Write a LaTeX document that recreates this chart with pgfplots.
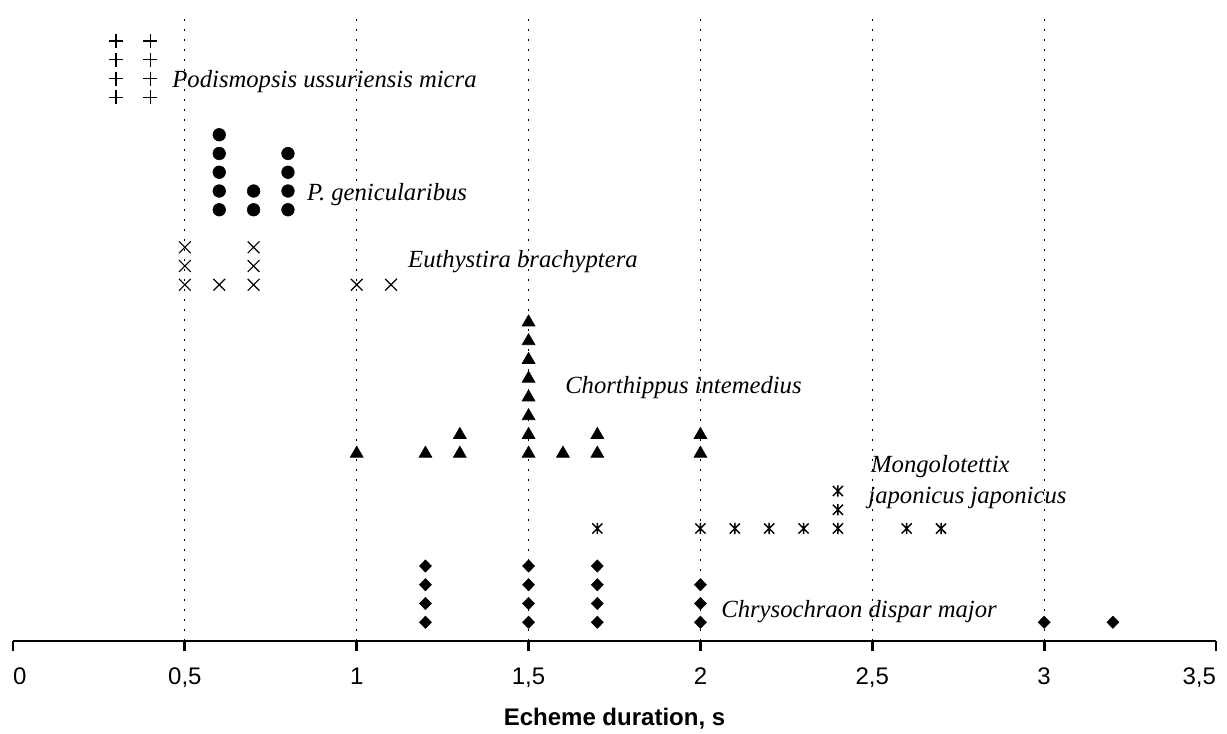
\documentclass[border=0pt]{standalone}
\usepackage{pgfplots}
\pgfplotsset{compat=1.18}
\usepackage{fontspec}
\setmainfont{Liberation Serif}
\setsansfont{Liberation Sans}
% an x with a vertical stroke through it
\pgfdeclareplotmark{xast}{%
  \pgfpathmoveto{\pgfqpoint{-\pgfplotmarksize}{-\pgfplotmarksize}}%
  \pgfpathlineto{\pgfqpoint{\pgfplotmarksize}{\pgfplotmarksize}}%
  \pgfpathmoveto{\pgfqpoint{-\pgfplotmarksize}{\pgfplotmarksize}}%
  \pgfpathlineto{\pgfqpoint{\pgfplotmarksize}{-\pgfplotmarksize}}%
  \pgfpathmoveto{\pgfqpoint{0pt}{-1.1\pgfplotmarksize}}%
  \pgfpathlineto{\pgfqpoint{0pt}{1.1\pgfplotmarksize}}%
  \pgfusepathqstroke}
\begin{document}
\begin{tikzpicture}[
  lbl/.style={anchor=base west, inner sep=0pt, font=\itshape\fontsize{18.5}{22}\selectfont},
]
\useasboundingbox (0,0) rectangle (920.25pt,549.75pt);
\begin{axis}[
  at={(9.75pt,69pt)}, anchor=south west,
  scale only axis, width=902.25pt, height=471.09pt,
  xmin=0, xmax=3.5, ymin=0, ymax=33.5,
  clip=false,
  axis x line=bottom, axis y line=none,
  x axis line style={-, line width=2.2pt, black},
  xtick={0,0.5,1,1.5,2,2.5,3,3.5},
  xticklabels={{\makebox[0pt][l]{0}},{0,5},{1},{1,5},{2},{2,5},{3},{\makebox[0pt][r]{3,5}}},
  tick align=outside,
  major tick length=7.5pt,
  tick style={line width=2.2pt, black},
  xticklabel style={font=\sffamily\fontsize{18}{18}\selectfont, anchor=base, yshift=-24.75pt},
  extra x ticks={0.5,1,1.5,2,2.5,3},
  extra x tick labels={},
  extra x tick style={grid=major, major tick length=0pt,
    major grid style={black, line width=0.9pt, dash pattern=on 1.5pt off 6pt}},
  xlabel={Echeme duration, s},
  xlabel style={font=\sffamily\bfseries\fontsize{18}{18}\selectfont,
    at={(axis description cs:0.5,0)}, anchor=base, yshift=-63pt},
]
% Podismopsis ussuriensis micra
\addplot[only marks, mark=+, mark size=5.25pt, line width=1.1pt, black] coordinates {
  (0.3,29) (0.3,30) (0.3,31) (0.3,32)
  (0.4,29) (0.4,30) (0.4,31) (0.4,32)
};
% P. genicularibus
\addplot[only marks, mark=*, mark size=4.75pt, black] coordinates {
  (0.6,23) (0.6,24) (0.6,25) (0.6,26) (0.6,27)
  (0.7,23) (0.7,24)
  (0.8,23) (0.8,24) (0.8,25) (0.8,26)
};
% Euthystira brachyptera
\addplot[only marks, mark=x, mark size=6.2pt, line width=0.9pt, black] coordinates {
  (0.5,19) (0.5,20) (0.5,21)
  (0.6,19)
  (0.7,19) (0.7,20) (0.7,21)
  (1.0,19)
  (1.1,19)
};
% Chorthippus intemedius
\addplot[only marks, mark=triangle*, mark size=5.6pt, black] coordinates {
  (1.0,10)
  (1.2,10)
  (1.3,10) (1.3,11)
  (1.5,10) (1.5,11) (1.5,12) (1.5,13) (1.5,14) (1.5,15) (1.5,16) (1.5,17)
  (1.6,10)
  (1.7,10) (1.7,11)
  (2.0,10) (2.0,11)
};
% Mongolotettix japonicus japonicus
\addplot[only marks, mark=xast, mark size=3.8pt, line width=1.1pt, black] coordinates {
  (1.7,6)
  (2.0,6) (2.1,6) (2.2,6) (2.3,6)
  (2.4,6) (2.4,7) (2.4,8)
  (2.6,6) (2.7,6)
};
% Chrysochraon dispar major
\addplot[only marks, mark=diamond*, mark size=4.6pt, mark options={xscale=1.3}, black] coordinates {
  (1.2,1) (1.2,2) (1.2,3) (1.2,4)
  (1.5,1) (1.5,2) (1.5,3) (1.5,4)
  (1.7,1) (1.7,2) (1.7,3) (1.7,4)
  (2.0,1) (2.0,2) (2.0,3)
  (3.0,1)
  (3.2,1)
};
% species names
\node[lbl] at (axis cs:0.463,29.5) {Podismopsis ussuriensis micra};
\node[lbl] at (axis cs:0.855,23.5) {P. genicularibus};
\node[lbl] at (axis cs:1.149,19.9) {Euthystira brachyptera};
\node[lbl] at (axis cs:1.606,13.2) {Chorthippus intemedius};
\node[lbl] at (axis cs:2.496,9.0) {Mongolotettix};
\node[lbl] at (axis cs:2.488,7.35) {japonicus japonicus};
\node[lbl] at (axis cs:2.06,1.28) {Chrysochraon dispar major};
\end{axis}
\end{tikzpicture}
\end{document}
